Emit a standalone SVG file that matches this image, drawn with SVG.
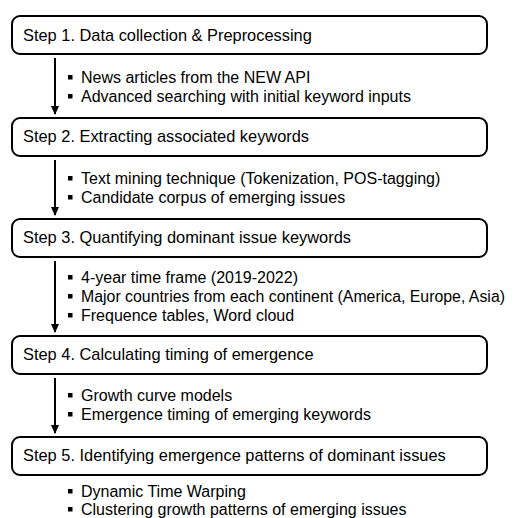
<svg xmlns="http://www.w3.org/2000/svg" width="520" height="518" viewBox="0 0 520 518">
  <style>
    .box { fill: #ffffff; stroke: #000000; stroke-width: 2; }
    .step { font-family: "Liberation Sans", Arial, sans-serif; font-size: 16.4px; fill: #000000; }
    .item { font-family: "Liberation Sans", Arial, sans-serif; font-size: 16px; fill: #000000; }
    .bullet { fill: #000000; }
    .flow { stroke: #000000; stroke-width: 2; fill: none; marker-end: url(#head); }
  </style>
  <defs>
    <marker id="head" markerWidth="9" markerHeight="8" refX="8" refY="4" orient="auto" markerUnits="userSpaceOnUse" viewBox="0 0 9 8">
      <path d="M0,0 L9,4 L0,8 Z" fill="#000000"/>
    </marker>
  </defs>
  <rect width="520" height="518" fill="#ffffff"/>

  <!-- connectors between steps -->
  <g id="connectors">
    <line class="flow" x1="55" y1="58" x2="55" y2="114"/>
    <line class="flow" x1="55" y1="160" x2="55" y2="215"/>
    <line class="flow" x1="55" y1="261" x2="55" y2="332"/>
    <line class="flow" x1="55" y1="378" x2="55" y2="433"/>
  </g>

  <g id="step1">
    <rect class="box" x="12" y="16" width="475" height="38" rx="8"/>
    <text class="step" x="23" y="41">Step 1. Data collection &amp; Preprocessing</text>
    <rect class="bullet" x="68" y="75" width="4.5" height="4.5"/>
    <text class="item" x="81" y="83">News articles from the NEW API</text>
    <rect class="bullet" x="68" y="94" width="4.5" height="4.5"/>
    <text class="item" x="81" y="102">Advanced searching with initial keyword inputs</text>
  </g>

  <g id="step2">
    <rect class="box" x="12" y="118" width="475" height="38" rx="8"/>
    <text class="step" x="23" y="142">Step 2. Extracting associated keywords</text>
    <rect class="bullet" x="68" y="176" width="4.5" height="4.5"/>
    <text class="item" x="81" y="184">Text mining technique (Tokenization, POS-tagging)</text>
    <rect class="bullet" x="68" y="195" width="4.5" height="4.5"/>
    <text class="item" x="81" y="203">Candidate corpus of emerging issues</text>
  </g>

  <g id="step3">
    <rect class="box" x="12" y="219" width="475" height="38" rx="8"/>
    <text class="step" x="23" y="243">Step 3. Quantifying dominant issue keywords</text>
    <rect class="bullet" x="68" y="275" width="4.5" height="4.5"/>
    <text class="item" x="81" y="283">4-year time frame (2019-2022)</text>
    <rect class="bullet" x="68" y="294" width="4.5" height="4.5"/>
    <text class="item" x="81" y="302" textLength="424" lengthAdjust="spacingAndGlyphs">Major countries from each continent (America, Europe, Asia)</text>
    <rect class="bullet" x="68" y="313" width="4.5" height="4.5"/>
    <text class="item" x="81" y="321">Frequence tables, Word cloud</text>
  </g>

  <g id="step4">
    <rect class="box" x="12" y="336" width="475" height="38" rx="8"/>
    <text class="step" x="23" y="360">Step 4. Calculating timing of emergence</text>
    <rect class="bullet" x="68" y="393" width="4.5" height="4.5"/>
    <text class="item" x="81" y="401">Growth curve models</text>
    <rect class="bullet" x="68" y="412" width="4.5" height="4.5"/>
    <text class="item" x="81" y="420">Emergence timing of emerging keywords</text>
  </g>

  <g id="step5">
    <rect class="box" x="12" y="437" width="475" height="38" rx="8"/>
    <text class="step" x="23" y="461">Step 5. Identifying emergence patterns of dominant issues</text>
    <rect class="bullet" x="68" y="489" width="4.5" height="4.5"/>
    <text class="item" x="81" y="497">Dynamic Time Warping</text>
    <rect class="bullet" x="68" y="507" width="4.5" height="4.5"/>
    <text class="item" x="81" y="515">Clustering growth patterns of emerging issues</text>
  </g>
</svg>
